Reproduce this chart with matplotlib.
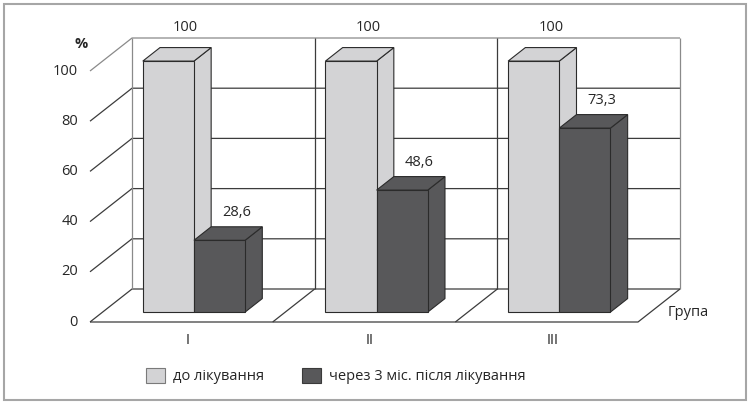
import matplotlib
matplotlib.use("Agg")
import matplotlib.pyplot as plt
from matplotlib.patches import Polygon, Rectangle, Patch

plt.rcParams['font.family'] = ['Open Sans', 'DejaVu Sans']

# ---- data ----
groups = ["I", "II", "III"]
series_names = ["до лікування", "через 3 міс. після лікування"]
before = [100, 100, 100]
after = [28.6, 48.6, 73.3]
value_labels_before = ["100", "100", "100"]
value_labels_after = ["28,6", "48,6", "73,3"]
yticks = [0, 20, 40, 60, 80, 100]

colors = ["#d3d3d5", "#58585a"]
edge = "#2b2b2b"
gridc = "#3c3c3c"
framec = "#8a8a8a"
textc = "#262626"

W, H = 750, 403
fig = plt.figure(figsize=(W / 100, H / 100), dpi=100)
ax = fig.add_axes([0, 0, 1, 1])
PX_X = 182.67   # pixels per category unit
PX_Y = 2.51     # pixels per value unit
X0, Y0 = 90, 322
ax.set_xlim((0 - X0) / PX_X, (W - X0) / PX_X)
ax.set_ylim((Y0 - H) / PX_Y, Y0 / PX_Y)
ax.axis("off")

# oblique depth offset of the full floor depth, in data units
DX = 42 / PX_X
DY = 33 / PX_Y


def P(x, y, z):
    return (x + z * DX, y + z * DY)


def line(pts, c=gridc, lw=0.9, zo=1):
    xs, ys = zip(*pts)
    ax.plot(xs, ys, color=c, lw=lw, zorder=zo, solid_capstyle="butt")


n = len(groups)
ymax = yticks[-1]

# back wall grid lines and left wall diagonals
for v in yticks:
    line([P(0, v, 0), P(0, v, 1), P(n, v, 1)], c=gridc if v not in (ymax,) else framec)
# back wall verticals
line([P(0, 0, 1), P(0, ymax, 1)], c=framec)
line([P(n, 0, 1), P(n, ymax, 1)], c=framec)
for i in range(1, n):
    line([P(i, 0, 1), P(i, ymax, 1)], c=gridc)
# floor
line([P(0, 0, 0), P(n, 0, 0), P(n, 0, 1)], c=gridc)
for i in range(1, n):
    line([P(i, 0, 0), P(i, 0, 1)], c=gridc)

# bars
BW = 0.28
ZF, ZB = 0.30, 0.71


def bar3d(x0, h, color):
    x1 = x0 + BW
    front = [P(x0, 0, ZF), P(x1, 0, ZF), P(x1, h, ZF), P(x0, h, ZF)]
    top = [P(x0, h, ZF), P(x1, h, ZF), P(x1, h, ZB), P(x0, h, ZB)]
    side = [P(x1, 0, ZF), P(x1, 0, ZB), P(x1, h, ZB), P(x1, h, ZF)]
    for poly in (side, top, front):
        ax.add_patch(Polygon(poly, closed=True, facecolor=color,
                             edgecolor=edge, lw=0.8, zorder=3))


for i in range(n):
    c = i + 0.5
    bar3d(c - BW, before[i], colors[0])
    bar3d(c, after[i], colors[1])

# value labels
for i in range(n):
    c = i + 0.5
    ax.annotate(value_labels_before[i], P(c - BW / 2, before[i], ZB),
                xytext=(0, 14.5), textcoords="offset points", ha="center",
                va="center", fontsize=10.5, color=textc, zorder=5)
    ax.annotate(value_labels_after[i], P(c + BW / 2, after[i], ZB),
                xytext=(0, 10.5), textcoords="offset points", ha="center",
                va="center", fontsize=10.5, color=textc, zorder=5)

# y tick labels
for v in yticks:
    ax.text(-12 / PX_X, v, str(v), ha="right", va="center",
            fontsize=10.5, color=textc)
ax.text(-9 / PX_X, 110.8, "%", ha="center", va="center", fontsize=10.5,
        color=textc, fontweight="bold")

# category labels
for i, g in enumerate(groups):
    ax.text(i + 0.5 + 6 / PX_X, -7.2, g, ha="center", va="center",
            fontsize=10.5, color=textc)
ax.text(n + 30 / PX_X, 3.6, "Група", ha="left", va="center",
        fontsize=10.5, color=textc)

# legend
handles = [Patch(facecolor=colors[0], edgecolor="#7a7a7a", lw=0.8),
           Patch(facecolor=colors[1], edgecolor="#3a3a3a", lw=0.8)]
fig.legend(handles, series_names, loc="center",
           bbox_to_anchor=(335.5 / W, 1 - 376 / H), ncol=2, frameon=False,
           fontsize=10.5, handlelength=1.3, handleheight=1.25,
           handletextpad=0.55, columnspacing=2.6, labelcolor=textc)

# outer border
fig.patches.append(Rectangle((4 / W, 3 / H), 742 / W, 396 / H,
                             transform=fig.transFigure, fill=False,
                             edgecolor="#a6a6a6", lw=1.5))

fig.savefig("out.png", dpi=100)
